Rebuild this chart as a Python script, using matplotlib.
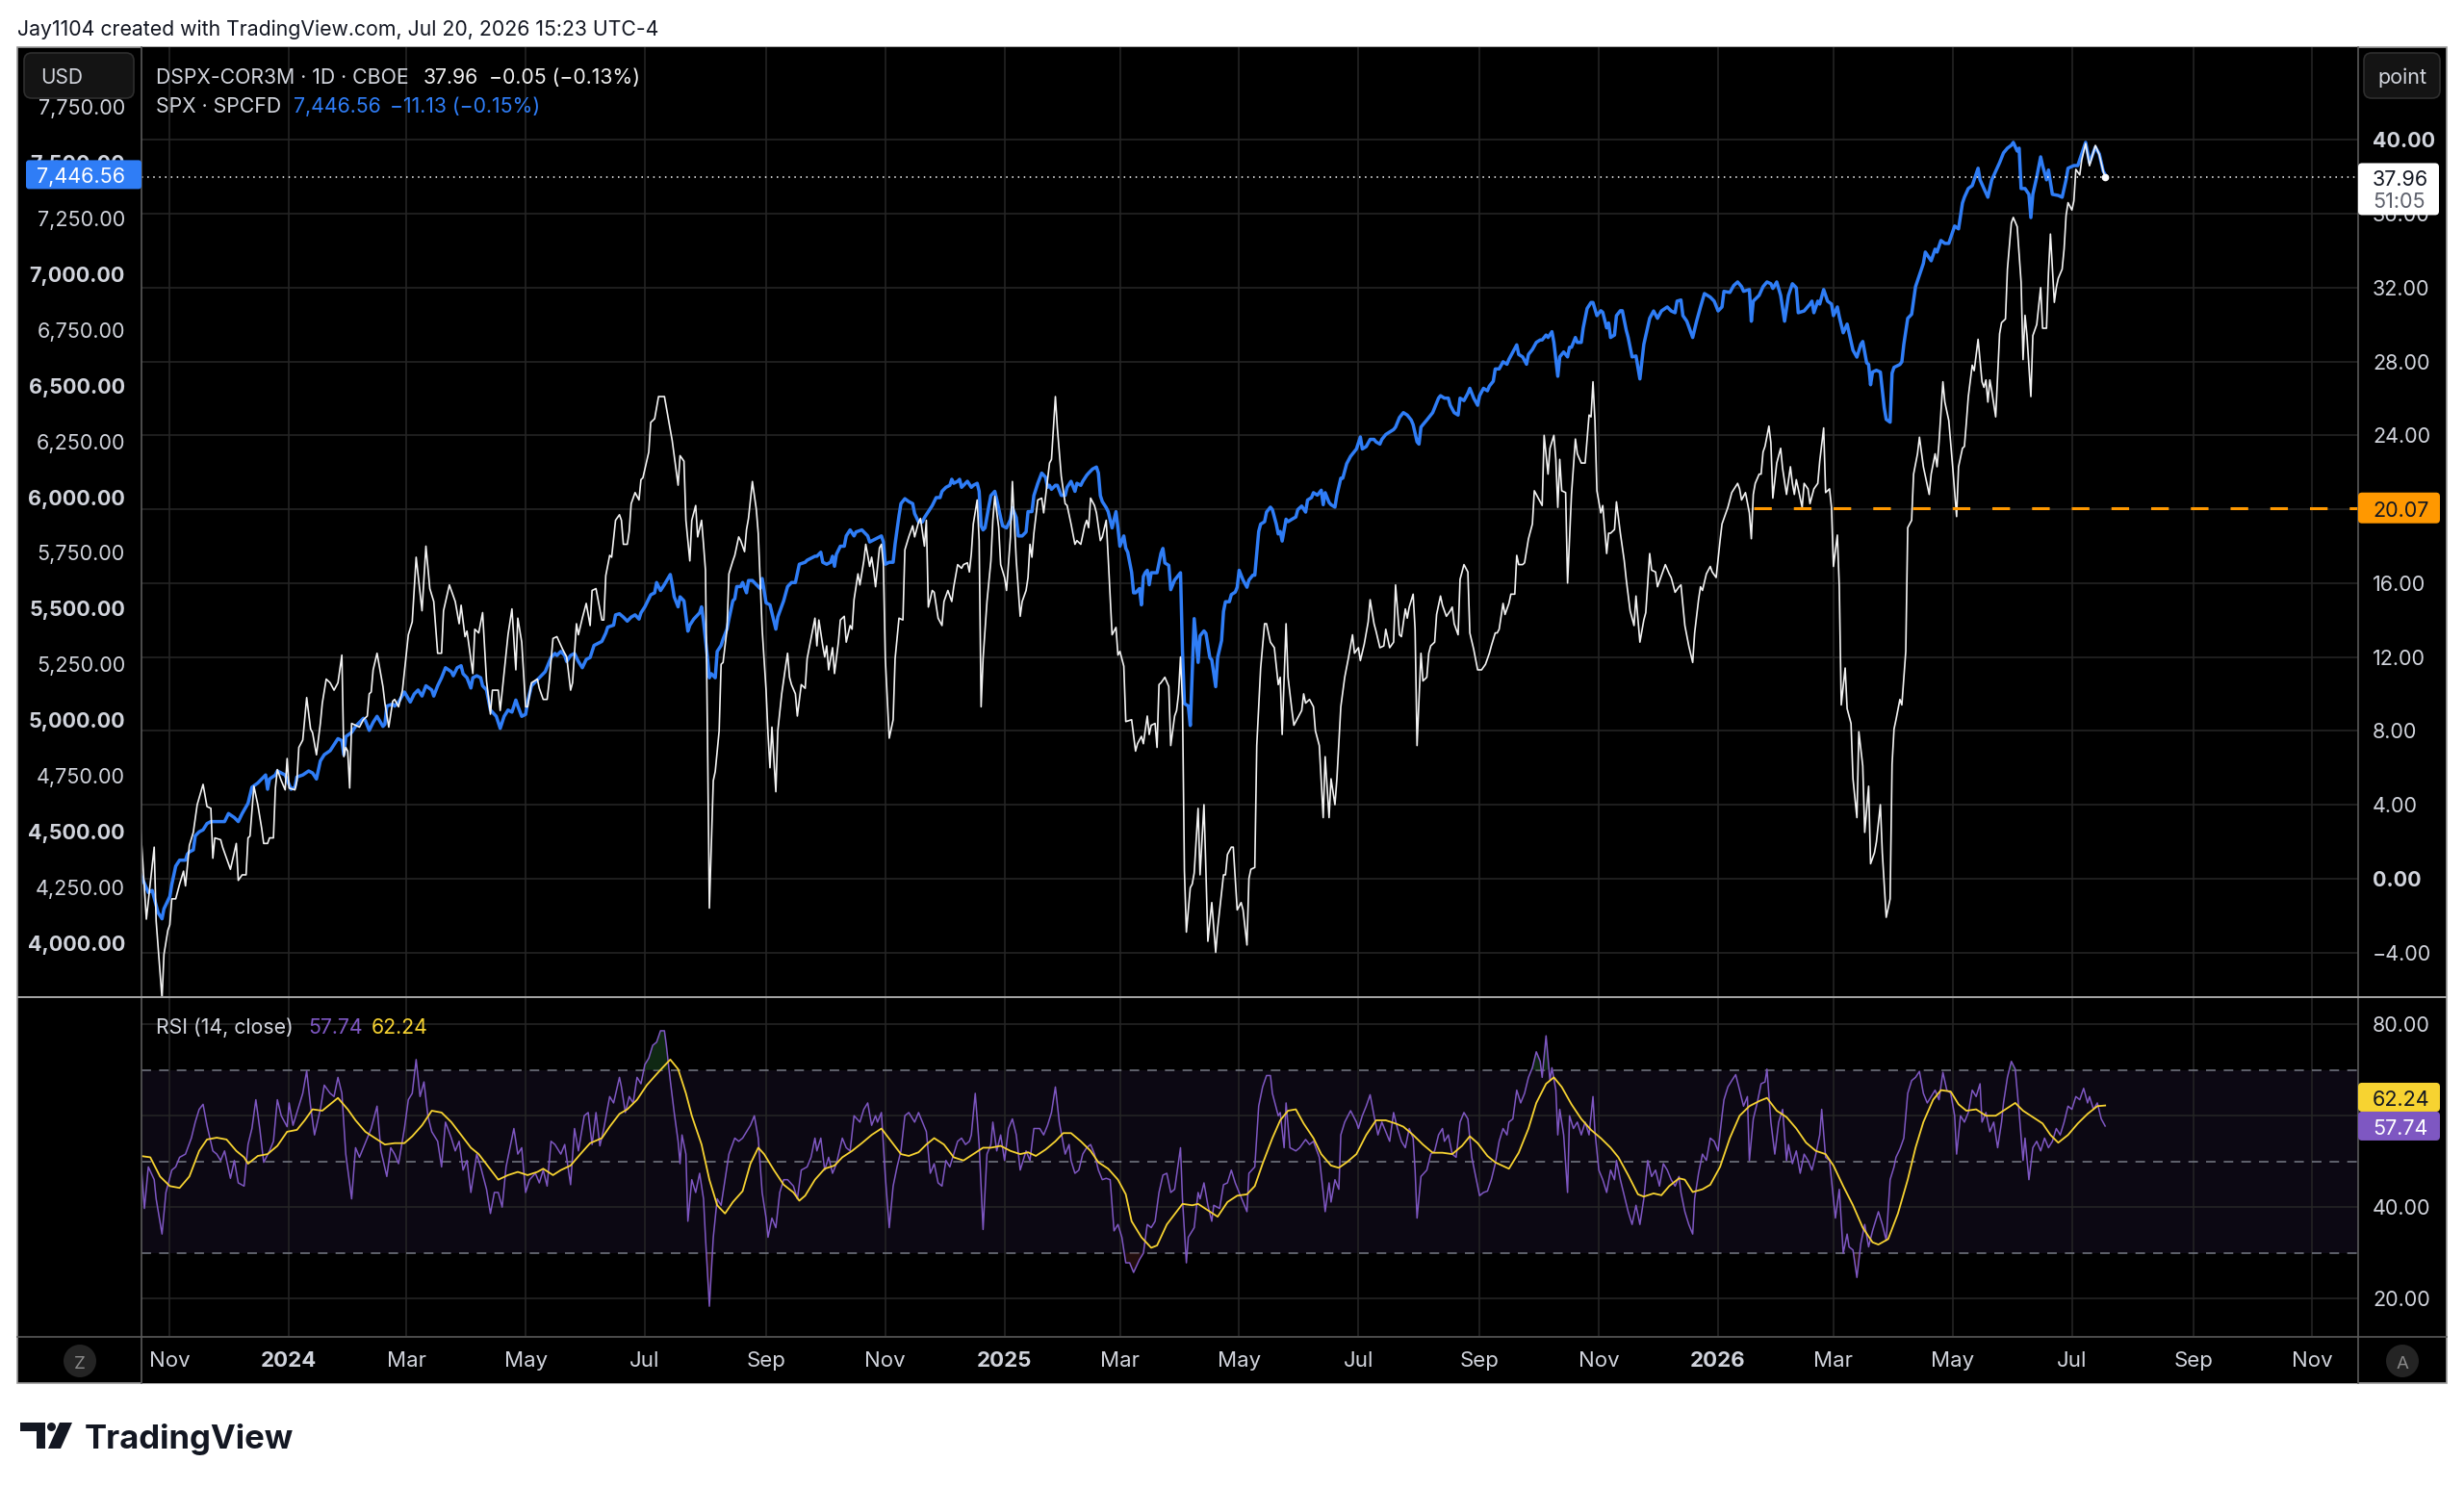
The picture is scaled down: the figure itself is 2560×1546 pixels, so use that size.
import numpy as np
import matplotlib
matplotlib.use('Agg')
import matplotlib.pyplot as plt
import matplotlib.dates as mdates
from matplotlib.patches import FancyBboxPatch, Rectangle, Circle, Polygon
from matplotlib.lines import Line2D
from matplotlib.transforms import IdentityTransform, blended_transform_factory

plt.rcParams['font.family'] = ['Inter', 'DejaVu Sans']

W, H = 2560, 1546

# ---------------- data (days counted from start_date) ----------------
start_date = '2023-11-01'

dspx_day = [-15, -12, -8, -7, -4, -3, -1, 0, 1, 3, 5, 7, 8, 10, 12, 14, 17, 19, 21, 22, 23, 26, 27, 31, 34, 35,
            37, 39, 40, 41, 43, 45, 47, 48, 50, 51, 53, 54, 55, 57, 59, 60, 61, 64, 65, 66, 68, 70, 72, 73, 75, 77,
            78, 80, 82, 84, 86, 88, 89, 90, 91, 92, 93, 97, 99, 101, 102, 103, 104, 106, 109, 110, 112, 114, 115,
            117, 119, 122, 124, 126, 129, 131, 133, 135, 137, 139, 140, 143, 146, 148, 149, 151, 152, 155, 156,
            158, 160, 162, 164, 165, 168, 169, 173, 175, 177, 178, 180, 182, 183, 185, 188, 189, 191, 193, 194,
            196, 198, 201, 203, 205, 206, 208, 209, 211, 213, 215, 216, 218, 221, 222, 223, 225, 226, 228, 230,
            231, 232, 234, 235, 236, 238, 240, 241, 242, 245, 246, 248, 250, 253, 255, 257, 258, 260, 261, 263,
            264, 266, 267, 269, 270, 272, 273, 274, 275, 276, 278, 279, 281, 282, 283, 285, 286, 288, 289, 291,
            292, 294, 295, 296, 298, 300, 301, 303, 305, 306, 307, 308, 310, 311, 313, 315, 316, 317, 318, 320,
            321, 323, 325, 326, 328, 330, 331, 332, 334, 335, 336, 337, 339, 340, 342, 343, 345, 346, 348, 349,
            350, 352, 353, 355, 356, 358, 359, 360, 361, 363, 364, 365, 366, 368, 370, 371, 373, 375, 376, 378,
            380, 381, 383, 384, 386, 387, 388, 390, 391, 393, 395, 396, 398, 400, 401, 403, 405, 406, 408, 409,
            410, 411, 413, 414, 415, 416, 418, 420, 421, 422, 424, 425, 427, 428, 430, 431, 432, 433, 435, 436,
            438, 439, 440, 441, 442, 444, 446, 447, 449, 450, 451, 453, 454, 456, 458, 459, 461, 463, 464, 466,
            468, 469, 470, 471, 473, 474, 476, 477, 479, 480, 482, 484, 485, 486, 488, 489, 492, 494, 495, 497,
            498, 500, 501, 502, 504, 505, 506, 507, 509, 511, 512, 514, 515, 516, 517, 518, 519, 520, 522, 523,
            524, 526, 527, 529, 530, 531, 533, 535, 536, 539, 540, 541, 543, 544, 546, 548, 549, 551, 552, 553,
            555, 556, 558, 560, 561, 563, 565, 567, 568, 569, 571, 572, 574, 575, 577, 579, 580, 581, 583, 585,
            586, 588, 590, 591, 593, 594, 596, 597, 599, 601, 603, 605, 606, 608, 609, 611, 613, 614, 616, 617,
            619, 621, 622, 624, 626, 627, 629, 630, 632, 633, 634, 636, 637, 638, 640, 641, 643, 644, 645, 647,
            648, 650, 651, 653, 655, 656, 657, 659, 660, 662, 664, 665, 667, 669, 671, 673, 675, 676, 678, 679,
            680, 682, 683, 685, 686, 688, 689, 690, 692, 693, 695, 697, 698, 700, 702, 703, 705, 706, 708, 709,
            710, 711, 712, 714, 715, 717, 719, 720, 722, 724, 726, 727, 728, 729, 730, 732, 733, 735, 736, 737,
            739, 740, 742, 744, 745, 747, 749, 750, 752, 754, 755, 757, 758, 760, 761, 763, 765, 767, 768, 770,
            772, 773, 775, 777, 779, 780, 782, 783, 784, 786, 788, 789, 791, 793, 794, 797, 799, 802, 803, 804,
            806, 808, 809, 810, 811, 813, 814, 815, 816, 818, 819, 820, 822, 824, 825, 827, 829, 830, 831, 832,
            833, 835, 836, 838, 839, 841, 843, 844, 846, 847, 849, 850, 851, 853, 854, 855, 857, 858, 860, 861,
            863, 864, 866, 867, 869, 870, 872, 873, 875, 876, 878, 880, 881, 882, 883, 885, 886, 888, 889, 891,
            892, 894, 895, 897, 900, 901, 903, 904, 905, 907, 908, 910, 912, 914, 915, 917, 918, 919, 920, 922,
            923, 925, 927, 928, 929, 930, 931, 932, 934, 936, 937, 939, 940, 942, 943, 945, 947, 948, 949, 950,
            952, 953, 955, 957, 958, 960, 961, 962, 964, 965, 966, 968, 969, 970, 971, 973, 974, 975, 977, 978,
            980, 982, 985, 987, 989, 990]
dspx_val = [2.8, -2.2, 1.7, -2.3, -6.5, -4.1, -2.8, -2.5, -1.1, -1.1, -0.3, 0.4, -0.4, 1.8, 2.5, 4.0, 5.1, 3.9,
            3.8, 1.1, 2.2, 2.1, 1.7, 0.5, 1.9, -0.1, 0.2, 0.2, 2.2, 2.3, 5.0, 4.0, 2.7, 1.9, 1.9, 2.2, 2.2, 4.9,
            5.9, 5.3, 4.8, 6.5, 4.9, 4.8, 5.3, 7.1, 7.5, 9.8, 8.1, 7.9, 6.7, 8.4, 9.5, 10.8, 10.6, 10.2, 10.6,
            12.1, 6.6, 7.1, 6.9, 4.9, 8.4, 8.2, 8.6, 8.8, 10.0, 10.1, 11.3, 12.2, 10.4, 9.5, 8.2, 9.6, 9.7, 9.3,
            10.2, 13.2, 13.9, 17.4, 14.5, 18.0, 15.7, 15.0, 12.2, 12.2, 14.5, 15.9, 15.0, 13.8, 14.8, 13.1, 13.4,
            11.1, 13.5, 13.3, 14.4, 10.7, 8.9, 10.2, 10.2, 9.1, 13.2, 14.6, 11.3, 14.1, 12.8, 9.3, 9.3, 10.6,
            10.8, 10.3, 9.7, 9.7, 10.6, 13.0, 13.1, 12.4, 12.0, 10.2, 10.6, 13.8, 13.2, 14.1, 14.9, 13.7, 15.6,
            15.7, 14.0, 14.0, 16.4, 17.5, 17.4, 19.4, 19.7, 19.4, 18.1, 18.1, 18.8, 20.3, 20.9, 20.5, 21.6, 21.7,
            23.1, 24.7, 24.9, 26.1, 26.1, 24.9, 23.7, 22.9, 21.3, 22.9, 22.6, 19.4, 17.2, 19.4, 20.2, 18.5, 19.4,
            18.1, 16.7, 8.0, -1.6, 5.3, 5.8, 8.0, 11.6, 11.7, 13.5, 16.5, 17.2, 17.5, 18.5, 18.3, 17.7, 18.9, 19.5,
            21.5, 20.0, 18.7, 13.5, 10.2, 7.8, 6.0, 8.2, 4.7, 8.0, 10.0, 11.5, 12.2, 10.9, 10.5, 10.0, 8.8, 10.5,
            10.3, 11.9, 13.0, 14.1, 12.6, 14.0, 12.6, 12.0, 12.6, 11.3, 12.5, 11.1, 12.8, 14.0, 14.2, 12.8, 13.7,
            13.5, 15.1, 16.5, 15.9, 17.2, 18.1, 16.9, 17.4, 16.7, 15.8, 17.9, 18.1, 17.0, 11.9, 7.6, 8.6, 11.9,
            14.1, 14.0, 17.8, 18.5, 19.1, 18.5, 19.3, 19.5, 18.0, 19.4, 14.7, 15.6, 15.5, 14.1, 13.7, 15.0, 15.6,
            15.0, 15.8, 17.0, 16.8, 17.0, 17.1, 16.6, 17.6, 19.2, 20.5, 18.3, 9.3, 11.9, 15.0, 17.2, 19.4, 20.7,
            19.0, 17.0, 16.3, 15.6, 18.5, 21.5, 19.4, 17.2, 14.2, 15.0, 15.6, 16.3, 18.1, 17.4, 18.7, 20.5, 20.6,
            19.8, 21.6, 22.5, 22.7, 26.1, 24.4, 21.8, 20.3, 20.2, 19.2, 18.1, 18.3, 18.1, 19.1, 19.4, 19.0, 20.6,
            20.2, 19.8, 18.3, 18.5, 19.4, 17.4, 13.2, 13.6, 12.1, 12.3, 11.5, 8.5, 8.6, 6.9, 7.3, 7.7, 7.3, 8.8,
            7.8, 8.3, 8.4, 7.1, 10.5, 10.6, 10.9, 10.4, 7.2, 8.8, 9.1, 10.0, 12.0, 9.6, 0.4, -2.9, -0.5, -0.3, 0.3,
            3.8, 0.2, 4.0, 0.4, -3.4, -1.3, -4.0, -2.7, 0.2, 0.2, 1.3, 1.7, 1.7, -1.7, -1.3, -1.7, -3.6, 0.0, 0.5,
            0.6, 7.2, 11.4, 13.8, 13.8, 12.8, 12.5, 10.5, 10.9, 7.8, 13.8, 10.9, 9.1, 8.3, 8.7, 9.1, 10.0, 9.5,
            9.7, 9.3, 8.0, 7.2, 3.3, 6.6, 3.3, 5.4, 4.0, 5.4, 9.3, 10.9, 12.0, 13.2, 12.2, 12.5, 11.8, 12.7, 13.9,
            15.1, 13.8, 13.4, 12.5, 12.6, 13.5, 12.5, 12.8, 15.9, 13.2, 13.1, 14.6, 14.1, 14.7, 15.4, 13.5, 7.2,
            12.2, 10.7, 10.9, 12.2, 12.6, 12.8, 14.3, 15.3, 14.8, 14.2, 14.5, 14.7, 13.8, 13.2, 16.2, 17.0, 16.6,
            13.3, 12.4, 11.3, 11.3, 11.6, 12.2, 12.6, 13.3, 13.3, 13.5, 14.9, 14.3, 14.9, 15.4, 15.4, 17.5, 17.0,
            17.0, 17.1, 18.4, 19.2, 21.0, 20.6, 20.2, 24.0, 21.9, 23.3, 24.0, 22.7, 20.1, 22.7, 21.0, 20.9, 16.0,
            20.8, 23.8, 23.0, 22.5, 22.5, 25.1, 25.0, 26.9, 24.8, 21.0, 19.8, 20.2, 17.6, 18.7, 18.7, 18.9, 20.4,
            18.7, 17.2, 16.2, 14.5, 13.7, 15.3, 12.8, 14.0, 14.4, 17.6, 16.7, 16.6, 15.8, 16.4, 17.0, 16.5, 16.3,
            15.5, 15.8, 15.9, 13.7, 12.6, 11.7, 13.3, 15.1, 15.8, 15.6, 16.5, 16.9, 16.6, 16.3, 18.3, 19.2, 20.1,
            20.9, 21.4, 21.1, 20.5, 20.9, 19.8, 18.4, 20.8, 21.4, 21.9, 21.9, 23.1, 23.4, 24.5, 23.6, 20.6, 22.5,
            23.3, 22.2, 20.8, 22.3, 21.4, 20.8, 21.6, 21.1, 20.1, 21.4, 21.1, 20.3, 21.1, 21.4, 22.6, 24.4, 20.9,
            21.1, 20.1, 16.9, 18.6, 15.8, 9.4, 11.4, 9.2, 8.4, 5.4, 3.3, 7.95, 6.1, 2.5, 5.0, 0.8, 1.4, 2.0, 4.0,
            1.4, -2.1, -1.1, 6.2, 8.1, 8.6, 9.7, 9.4, 12.3, 19.0, 19.4, 21.9, 23.0, 23.9, 22.3, 20.8, 21.9, 23.0,
            22.3, 23.6, 26.9, 25.8, 24.8, 22.3, 19.6, 22.3, 23.3, 23.4, 24.7, 26.1, 27.8, 27.5, 29.2, 26.9, 26.6,
            27.0, 25.8, 27.0, 26.4, 25.0, 29.5, 30.1, 30.3, 33.0, 35.5, 35.8, 35.3, 32.3, 28.1, 30.5, 29.4, 26.1,
            29.4, 30.0, 32.0, 29.8, 29.8, 32.8, 34.9, 31.2, 32.0, 32.5, 33.0, 34.1, 35.9, 36.6, 36.2, 36.7, 38.4,
            38.1, 38.9, 39.8, 38.6, 39.7, 39.2, 38.3, 37.96]

spx_day = [-15, -11, -9, -6, -4, -3, 0, 1, 3, 5, 8, 9, 10, 12, 13, 15, 17, 19, 21, 25, 28, 30, 33, 35, 37, 40,
           42, 45, 47, 49, 50, 51, 54, 55, 59, 62, 64, 65, 68, 71, 73, 75, 77, 79, 82, 84, 86, 88, 89, 90, 93, 95,
           99, 100, 102, 104, 106, 109, 110, 111, 114, 115, 117, 120, 123, 125, 127, 129, 131, 134, 135, 137, 139,
           141, 144, 145, 147, 149, 150, 152, 154, 155, 157, 159, 160, 162, 164, 167, 169, 171, 173, 175, 177,
           178, 180, 182, 183, 185, 187, 189, 192, 195, 197, 198, 200, 202, 203, 205, 207, 209, 211, 213, 215,
           217, 219, 221, 223, 224, 227, 228, 230, 232, 234, 236, 238, 240, 241, 243, 246, 248, 249, 251, 253,
           256, 257, 258, 260, 261, 263, 265, 266, 268, 271, 272, 273, 275, 276, 277, 279, 280, 282, 283, 285,
           286, 288, 289, 290, 292, 293, 295, 296, 298, 300, 302, 303, 305, 307, 308, 310, 311, 314, 316, 318,
           320, 322, 325, 326, 328, 330, 331, 333, 334, 336, 338, 339, 340, 341, 343, 345, 346, 348, 350, 351,
           354, 355, 357, 358, 360, 362, 364, 365, 366, 368, 370, 371, 373, 374, 376, 378, 380, 381, 383, 385,
           386, 388, 390, 392, 394, 395, 397, 399, 400, 401, 403, 404, 405, 407, 408, 410, 411, 413, 414, 415,
           416, 417, 419, 420, 422, 423, 425, 426, 428, 430, 431, 433, 434, 436, 438, 439, 441, 442, 444, 446,
           448, 449, 450, 451, 453, 454, 456, 458, 459, 461, 463, 464, 466, 467, 469, 470, 472, 474, 475, 476,
           477, 479, 480, 482, 484, 485, 486, 488, 489, 490, 492, 493, 494, 496, 497, 498, 499, 500, 501, 502,
           505, 507, 508, 509, 511, 512, 514, 516, 517, 518, 519, 521, 522, 524, 526, 527, 529, 530, 532, 533,
           535, 536, 538, 539, 540, 542, 543, 545, 546, 547, 549, 551, 552, 554, 555, 557, 558, 560, 561, 563,
           564, 566, 567, 568, 569, 571, 572, 574, 576, 577, 579, 581, 582, 584, 585, 587, 589, 590, 591, 593,
           594, 596, 597, 599, 600, 602, 604, 606, 607, 609, 610, 612, 614, 616, 617, 619, 620, 622, 624, 626,
           627, 629, 630, 631, 633, 635, 636, 638, 639, 640, 641, 643, 645, 646, 647, 649, 650, 652, 654, 655,
           657, 659, 660, 662, 664, 665, 667, 669, 670, 672, 674, 675, 677, 678, 680, 682, 684, 685, 687, 689,
           690, 692, 694, 695, 697, 699, 701, 702, 704, 705, 707, 708, 710, 711, 713, 715, 716, 717, 719, 720,
           722, 723, 725, 727, 728, 730, 732, 733, 735, 736, 737, 739, 740, 742, 743, 745, 746, 748, 750, 752,
           754, 757, 759, 761, 763, 766, 768, 770, 771, 773, 774, 776, 779, 781, 783, 785, 788, 790, 792, 794,
           795, 798, 800, 802, 804, 805, 808, 809, 810, 813, 815, 817, 819, 820, 822, 824, 826, 828, 830, 832,
           833, 836, 839, 840, 841, 843, 844, 846, 848, 850, 851, 853, 854, 856, 858, 859, 861, 863, 865, 866,
           868, 869, 870, 871, 873, 875, 877, 878, 880, 881, 882, 885, 886, 887, 889, 891, 893, 895, 897, 898,
           900, 901, 903, 904, 906, 908, 910, 912, 913, 915, 917, 918, 920, 922, 923, 925, 926, 928, 930, 932,
           934, 936, 938, 940, 942, 943, 945, 946, 947, 949, 951, 952, 953, 955, 957, 958, 960, 961, 963, 966,
           968, 970, 971, 974, 976, 978, 980, 982, 985, 987, 989, 990]
spx_val = [4309, 4227, 4236, 4136, 4109, 4154, 4209, 4263, 4345, 4372, 4372, 4399, 4409, 4418, 4481, 4499, 4508,
           4536, 4545, 4545, 4545, 4581, 4563, 4545, 4581, 4627, 4699, 4718, 4736, 4754, 4690, 4736, 4754, 4772,
           4754, 4690, 4699, 4745, 4754, 4772, 4763, 4736, 4817, 4845, 4863, 4890, 4917, 4908, 4845, 4926, 4945,
           4972, 5008, 4999, 4954, 4990, 5017, 4972, 4981, 5063, 5072, 5063, 5081, 5126, 5081, 5117, 5135, 5108,
           5154, 5135, 5108, 5154, 5190, 5235, 5217, 5199, 5235, 5244, 5208, 5190, 5144, 5190, 5199, 5190, 5154,
           5135, 5045, 5017, 4963, 5017, 5045, 5036, 5090, 5063, 5017, 5026, 5081, 5154, 5172, 5190, 5217, 5281,
           5299, 5290, 5308, 5290, 5263, 5290, 5299, 5263, 5235, 5272, 5281, 5335, 5344, 5353, 5390, 5417, 5426,
           5472, 5477, 5462, 5444, 5462, 5472, 5453, 5481, 5508, 5562, 5571, 5617, 5581, 5608, 5653, 5608, 5553,
           5508, 5553, 5535, 5399, 5426, 5453, 5481, 5508, 5444, 5281, 5190, 5208, 5190, 5308, 5335, 5363, 5408,
           5453, 5535, 5544, 5599, 5599, 5617, 5571, 5626, 5626, 5608, 5590, 5635, 5526, 5517, 5481, 5408, 5463,
           5535, 5599, 5617, 5617, 5699, 5708, 5717, 5726, 5735, 5735, 5753, 5708, 5699, 5708, 5735, 5690, 5744,
           5780, 5780, 5826, 5853, 5826, 5844, 5853, 5844, 5826, 5799, 5808, 5817, 5826, 5799, 5699, 5708, 5708,
           5790, 5917, 5971, 5993, 5980, 5971, 5926, 5889, 5889, 5908, 5935, 5962, 5998, 5998, 6026, 6044, 6053,
           6080, 6062, 6071, 6080, 6044, 6062, 6071, 6044, 6053, 6062, 6026, 5871, 5853, 5862, 5962, 6007, 6026,
           5989, 5908, 5871, 5862, 5899, 5953, 5908, 5826, 5826, 5844, 5935, 5935, 6007, 6062, 6108, 6089, 6044,
           6053, 6035, 6053, 6053, 6008, 6008, 6044, 6071, 6026, 6062, 6053, 6071, 6098, 6108, 6126, 6135, 6108,
           6007, 5980, 5953, 5935, 5862, 5935, 5862, 5780, 5826, 5771, 5753, 5662, 5571, 5571, 5590, 5517, 5644,
           5662, 5672, 5607, 5661, 5661, 5748, 5770, 5705, 5694, 5585, 5628, 5650, 5661, 5313, 5074, 5063, 4976,
           5455, 5259, 5378, 5400, 5389, 5281, 5270, 5150, 5281, 5357, 5487, 5531, 5531, 5563, 5574, 5596, 5672,
           5628, 5596, 5628, 5650, 5650, 5846, 5879, 5890, 5933, 5955, 5944, 5879, 5835, 5846, 5803, 5901, 5890,
           5901, 5911, 5944, 5960, 5933, 5987, 5998, 6020, 6009, 6031, 5966, 6020, 5976, 5966, 5955, 6009, 6085,
           6085, 6150, 6183, 6205, 6216, 6270, 6216, 6227, 6259, 6259, 6248, 6238, 6259, 6281, 6292, 6303, 6314,
           6357, 6368, 6379, 6368, 6346, 6325, 6248, 6238, 6314, 6325, 6346, 6368, 6379, 6401, 6444, 6455, 6444,
           6444, 6412, 6379, 6368, 6444, 6433, 6466, 6488, 6444, 6412, 6455, 6488, 6477, 6498, 6520, 6575, 6575,
           6607, 6596, 6618, 6651, 6683, 6640, 6629, 6596, 6640, 6662, 6694, 6705, 6705, 6727, 6716, 6742, 6694,
           6542, 6629, 6651, 6629, 6672, 6672, 6716, 6694, 6694, 6759, 6846, 6873, 6873, 6814, 6836, 6829, 6759,
           6781, 6716, 6727, 6814, 6836, 6836, 6749, 6716, 6629, 6633, 6530, 6685, 6802, 6835, 6802, 6835, 6853,
           6835, 6827, 6879, 6884, 6814, 6789, 6716, 6789, 6853, 6913, 6897, 6879, 6835, 6853, 6923, 6918, 6949,
           6965, 6944, 6923, 6931, 6789, 6879, 6905, 6944, 6965, 6957, 6936, 6965, 6905, 6789, 6905, 6957, 6939,
           6827, 6835, 6866, 6879, 6827, 6879, 6866, 6931, 6879, 6866, 6814, 6853, 6809, 6737, 6776, 6737, 6659,
           6628, 6685, 6698, 6602, 6595, 6504, 6561, 6569, 6561, 6400, 6349, 6336, 6556, 6582, 6595, 6607, 6685,
           6802, 6820, 6944, 6996, 7048, 7099, 7073, 7060, 7112, 7099, 7151, 7138, 7138, 7190, 7216, 7203, 7319,
           7345, 7384, 7397, 7423, 7475, 7423, 7384, 7345, 7423, 7462, 7500, 7544, 7565, 7578, 7591, 7552, 7565,
           7384, 7384, 7358, 7254, 7358, 7436, 7526, 7487, 7423, 7467, 7358, 7353, 7345, 7423, 7475, 7487, 7487,
           7539, 7591, 7500, 7570, 7539, 7462, 7446.56]

rsi_day = [-15, -13, -11, -8, -7, -4, -2, 1, 3, 5, 8, 11, 13, 15, 17, 19, 22, 24, 26, 28, 31, 33, 35, 38, 40, 42,
           44, 46, 48, 51, 53, 55, 57, 60, 61, 63, 66, 68, 70, 72, 74, 77, 79, 82, 84, 86, 88, 90, 93, 95, 97, 99,
           101, 103, 106, 108, 111, 113, 115, 117, 120, 122, 124, 126, 128, 130, 132, 134, 137, 139, 141, 144,
           146, 148, 150, 152, 154, 157, 159, 162, 164, 166, 168, 170, 172, 175, 176, 178, 180, 182, 184, 187,
           189, 191, 193, 195, 197, 200, 202, 205, 207, 209, 212, 214, 216, 218, 220, 222, 225, 227, 230, 231,
           233, 235, 237, 239, 241, 243, 245, 247, 249, 251, 253, 254, 256, 258, 260, 261, 262, 264, 265, 267,
           269, 271, 273, 274, 276, 278, 280, 282, 284, 286, 289, 291, 293, 295, 297, 299, 301, 303, 305, 306,
           308, 310, 312, 314, 316, 319, 321, 323, 326, 328, 330, 331, 333, 335, 337, 339, 341, 344, 346, 348,
           350, 353, 355, 357, 359, 361, 362, 364, 366, 368, 370, 372, 374, 376, 378, 381, 383, 385, 387, 389,
           391, 393, 395, 397, 399, 401, 403, 405, 407, 409, 410, 412, 414, 416, 418, 420, 421, 423, 425, 427,
           429, 431, 433, 435, 438, 440, 442, 445, 447, 449, 451, 453, 455, 458, 460, 461, 463, 465, 467, 469,
           471, 473, 475, 477, 479, 481, 483, 485, 487, 489, 491, 493, 496, 498, 500, 502, 504, 506, 508, 510,
           512, 514, 517, 518, 520, 521, 524, 526, 527, 529, 531, 533, 534, 537, 539, 541, 543, 545, 547, 549,
           551, 552, 555, 557, 559, 561, 563, 564, 567, 568, 570, 571, 573, 576, 578, 581, 583, 585, 588, 590,
           591, 593, 594, 596, 598, 599, 601, 604, 607, 608, 610, 612, 614, 616, 618, 620, 622, 624, 626, 628,
           630, 632, 634, 636, 637, 638, 640, 643, 645, 647, 649, 651, 652, 654, 656, 658, 660, 662, 664, 666,
           668, 670, 672, 674, 676, 678, 680, 682, 684, 685, 687, 689, 691, 693, 695, 697, 699, 701, 702, 704,
           706, 707, 709, 710, 711, 713, 715, 716, 718, 720, 722, 724, 726, 728, 729, 731, 733, 735, 737, 739,
           740, 742, 744, 746, 748, 750, 752, 754, 756, 758, 760, 762, 764, 766, 768, 770, 772, 773, 775, 777,
           779, 780, 782, 784, 786, 788, 790, 792, 794, 795, 797, 799, 801, 803, 805, 807, 808, 810, 812, 814,
           816, 817, 819, 821, 823, 825, 827, 828, 830, 832, 834, 836, 838, 840, 842, 844, 845, 847, 849, 850,
           852, 854, 856, 858, 859, 861, 863, 865, 867, 869, 871, 872, 874, 876, 878, 880, 882, 883, 885, 887,
           889, 891, 893, 895, 897, 899, 901, 903, 905, 907, 909, 911, 913, 914, 916, 918, 920, 922, 924, 926,
           927, 929, 931, 933, 935, 937, 938, 940, 942, 944, 946, 948, 949, 951, 953, 955, 957, 959, 961, 963,
           965, 967, 969, 971, 973, 975, 977, 979, 981, 982, 984, 986, 988, 990]
rsi_val = [50.9, 39.7, 48.8, 46.0, 41.8, 34.1, 43.2, 48.1, 48.8, 50.9, 51.6, 55.1, 58.6, 61.4, 62.5, 57.9, 52.3,
           51.6, 50.2, 52.3, 46.3, 50.2, 45.3, 44.6, 53.7, 57.2, 63.5, 57.2, 49.8, 52.3, 54.4, 63.5, 60.0, 57.6,
           62.8, 57.9, 62.1, 64.9, 69.8, 62.1, 55.8, 61.4, 66.7, 64.9, 64.2, 68.4, 64.9, 51.6, 41.8, 53.0, 50.9,
           53.0, 55.1, 57.2, 62.1, 52.3, 46.7, 53.0, 51.6, 49.5, 57.2, 63.5, 64.9, 72.3, 64.2, 67.4, 60.0, 56.5,
           54.4, 48.8, 58.6, 55.1, 52.3, 54.4, 48.1, 50.2, 43.2, 51.6, 48.8, 43.9, 38.6, 43.2, 43.2, 40.0, 48.8,
           55.1, 57.2, 51.6, 53.0, 43.2, 46.0, 47.4, 45.3, 48.1, 44.6, 54.4, 53.7, 51.6, 53.7, 44.9, 57.2, 52.3,
           60.0, 60.7, 53.7, 60.7, 53.4, 57.2, 64.2, 62.8, 68.4, 66.3, 60.7, 64.2, 62.8, 68.4, 67.0, 71.2, 72.6,
           75.4, 76.1, 78.6, 78.6, 75.4, 67.7, 60.7, 54.4, 49.5, 55.8, 51.6, 36.9, 46.0, 43.2, 47.4, 41.8, 33.4,
           18.3, 33.4, 41.8, 40.4, 46.0, 51.6, 55.1, 54.4, 55.1, 56.5, 57.9, 60.0, 55.1, 43.2, 37.6, 33.4, 37.6,
           35.5, 43.2, 46.0, 46.0, 44.6, 41.8, 48.1, 48.8, 50.9, 55.1, 52.3, 55.1, 48.1, 50.9, 47.4, 49.5, 55.1,
           53.0, 52.3, 60.0, 58.6, 61.4, 62.8, 57.9, 60.0, 58.6, 60.7, 46.7, 35.5, 44.6, 48.8, 52.3, 60.0, 60.7,
           58.6, 60.7, 58.6, 56.5, 47.4, 49.5, 45.3, 44.6, 50.2, 48.8, 51.6, 54.4, 55.1, 53.7, 54.4, 55.8, 64.9,
           53.7, 35.1, 51.6, 53.7, 58.6, 52.3, 55.8, 50.2, 57.2, 59.3, 55.8, 48.1, 52.3, 50.2, 57.2, 57.2, 55.8,
           57.9, 60.7, 66.3, 58.6, 51.6, 53.7, 50.2, 47.4, 48.1, 51.6, 53.0, 53.7, 51.6, 48.1, 46.0, 46.3, 46.0,
           34.8, 36.2, 33.4, 27.8, 27.8, 25.7, 28.5, 29.9, 36.2, 35.5, 36.9, 43.2, 47.0, 47.4, 43.2, 43.9, 53.0,
           41.8, 27.8, 33.4, 35.5, 43.2, 41.8, 45.3, 40.4, 36.9, 40.4, 39.7, 44.9, 45.3, 48.1, 45.3, 43.2, 41.1,
           39.0, 47.4, 48.8, 62.1, 66.3, 68.8, 68.8, 64.9, 60.0, 60.7, 53.0, 62.8, 53.0, 52.3, 53.0, 54.8, 53.7,
           54.4, 50.9, 43.2, 39.0, 45.3, 41.1, 46.0, 43.9, 55.8, 58.6, 61.1, 58.6, 57.2, 60.0, 62.1, 64.6, 60.0,
           55.8, 58.6, 56.5, 54.4, 60.7, 57.2, 54.4, 53.0, 57.2, 55.1, 48.1, 37.6, 46.7, 48.1, 51.6, 52.3, 55.8,
           57.2, 54.4, 55.8, 51.6, 50.9, 58.6, 60.7, 59.3, 50.9, 46.7, 42.5, 43.2, 43.5, 46.0, 49.5, 54.4, 57.2,
           55.8, 58.6, 59.3, 65.6, 62.8, 64.9, 68.4, 70.5, 74.0, 71.9, 68.4, 77.5, 67.7, 70.5, 65.6, 55.8, 61.4,
           55.8, 43.2, 60.0, 57.2, 58.6, 55.8, 58.6, 55.8, 64.2, 56.5, 48.1, 46.0, 43.2, 48.1, 46.0, 50.2, 46.0,
           42.5, 39.0, 36.2, 40.4, 36.2, 41.8, 50.2, 46.7, 48.1, 44.6, 49.5, 48.1, 46.0, 44.6, 46.7, 43.2, 39.0,
           36.2, 34.1, 41.8, 47.4, 51.6, 50.2, 55.1, 54.4, 52.3, 60.0, 63.5, 66.3, 67.7, 69.0, 65.6, 62.1, 64.2,
           50.2, 59.3, 62.8, 67.0, 67.4, 70.2, 58.6, 51.6, 58.6, 61.4, 50.2, 53.7, 49.5, 52.3, 47.4, 51.6, 50.2,
           48.1, 51.6, 55.8, 61.4, 50.9, 50.2, 46.0, 37.6, 43.9, 29.9, 34.1, 31.3, 30.6, 24.6, 32.0, 36.2, 31.3,
           34.8, 36.2, 39.0, 36.2, 32.7, 46.0, 48.8, 50.9, 52.7, 55.1, 64.9, 67.7, 68.4, 69.7, 64.9, 62.8, 64.2,
           65.6, 63.5, 69.5, 65.6, 64.9, 60.0, 51.6, 60.0, 58.6, 60.7, 65.6, 64.2, 67.0, 58.6, 60.7, 56.5, 58.6,
           53.0, 58.6, 62.8, 68.4, 71.9, 70.2, 60.7, 50.2, 55.1, 46.0, 53.0, 54.4, 52.3, 55.1, 53.0, 54.4, 57.2,
           55.8, 58.6, 62.1, 61.4, 64.2, 63.5, 66.0, 62.8, 64.2, 61.4, 62.8, 59.3, 57.74]

rsi_ma_day = [-15, -10, -5, 0, 5, 10, 15, 19, 24, 29, 34, 38, 40, 45, 50, 55, 60, 65, 69, 73, 78, 82, 86, 91, 95,
              100, 105, 110, 115, 120, 124, 129, 134, 139, 144, 149, 154, 158, 163, 168, 173, 178, 183, 188, 191,
              196, 200, 205, 210, 215, 221, 225, 230, 234, 239, 244, 249, 252, 256, 260, 264, 267, 272, 276, 280,
              284, 288, 293, 297, 301, 304, 309, 314, 319, 322, 325, 330, 335, 340, 344, 349, 354, 359, 364, 369,
              374, 378, 383, 387, 391, 396, 401, 406, 411, 416, 420, 425, 430, 435, 439, 443, 448, 453, 457, 461,
              466, 471, 475, 480, 485, 489, 492, 497, 502, 505, 510, 515, 518, 523, 526, 531, 536, 541, 546, 551,
              555, 559, 564, 568, 572, 576, 580, 585, 589, 594, 598, 602, 607, 612, 617, 622, 627, 631, 636, 641,
              646, 651, 656, 661, 665, 669, 674, 678, 685, 690, 695, 699, 704, 708, 712, 717, 722, 727, 732, 737,
              741, 746, 751, 754, 759, 763, 767, 772, 775, 779, 784, 788, 793, 798, 803, 808, 813, 817, 822, 827,
              832, 837, 842, 847, 851, 856, 861, 866, 871, 874, 879, 884, 889, 893, 897, 902, 906, 911, 915, 919,
              924, 929, 934, 939, 944, 948, 953, 958, 962, 966, 971, 976, 981, 986, 990]
rsi_ma_val = [51.2, 50.9, 46.7, 44.6, 44.2, 46.7, 52.3, 54.8, 55.2, 54.8, 52.3, 50.9, 49.5, 51.2, 51.6, 53.4, 56.5,
              56.9, 59.0, 61.4, 61.1, 62.5, 63.9, 61.4, 59.0, 56.5, 55.1, 53.7, 54.0, 54.0, 55.5, 57.9, 61.1, 60.7,
              58.6, 55.8, 53.0, 51.6, 48.8, 46.0, 47.0, 47.7, 47.0, 47.7, 48.4, 47.0, 48.1, 49.1, 51.6, 54.0, 55.1,
              57.6, 60.4, 61.4, 63.5, 66.7, 69.1, 70.5, 72.3, 70.2, 64.9, 60.0, 53.7, 46.0, 40.4, 38.6, 41.1, 43.5,
              49.5, 53.0, 51.6, 48.1, 44.9, 43.2, 41.4, 42.5, 46.0, 48.4, 49.1, 50.9, 52.3, 54.0, 55.8, 57.2, 54.4,
              51.6, 51.2, 52.0, 53.7, 55.1, 53.7, 50.9, 50.2, 51.6, 53.0, 53.0, 53.4, 52.3, 51.6, 52.0, 51.2, 52.6,
              54.4, 56.2, 56.2, 54.4, 52.3, 49.8, 48.4, 46.0, 42.8, 36.9, 33.4, 31.1, 31.6, 36.2, 39.0, 40.7, 40.4,
              40.7, 39.3, 37.9, 41.1, 42.5, 42.8, 44.6, 49.5, 55.1, 59.0, 61.1, 61.4, 58.3, 55.1, 51.6, 49.1, 48.6,
              49.8, 51.6, 55.8, 59.0, 59.0, 58.3, 57.6, 55.8, 53.7, 51.9, 51.9, 51.6, 53.4, 55.5, 54.0, 51.2, 49.8,
              48.4, 51.9, 57.2, 62.8, 67.0, 68.4, 66.3, 62.5, 59.3, 56.9, 55.1, 53.0, 50.9, 47.0, 42.8, 42.3, 43.0,
              42.6, 44.6, 46.3, 46.0, 43.3, 43.9, 44.9, 48.8, 55.1, 60.0, 62.1, 63.2, 63.9, 61.1, 59.7, 57.2, 54.1,
              52.3, 51.6, 49.1, 44.6, 40.4, 35.5, 32.3, 31.8, 33.0, 38.6, 46.0, 53.0, 58.6, 63.5, 65.6, 65.3, 62.5,
              61.1, 61.4, 60.0, 60.0, 61.4, 62.8, 61.1, 59.7, 58.3, 55.8, 54.1, 55.8, 58.3, 60.4, 62.1, 62.24]

month_dates = ['2023-11-01', '2024-01-01', '2024-03-01', '2024-05-01', '2024-07-01', '2024-09-01',
               '2024-11-01', '2025-01-01', '2025-03-01', '2025-05-01', '2025-07-01', '2025-09-01',
               '2025-11-01', '2026-01-01', '2026-03-01', '2026-05-01', '2026-07-01', '2026-09-01', '2026-11-01']
month_labels = ['Nov', '2024', 'Mar', 'May', 'Jul', 'Sep', 'Nov', '2025', 'Mar', 'May', 'Jul', 'Sep', 'Nov',
                '2026', 'Mar', 'May', 'Jul', 'Sep', 'Nov']

spx_ticks = list(range(4000, 7751, 250))
dspx_grid = list(range(-4, 41, 4))
dspx_labels = [v for v in dspx_grid if v != 20]   # 20 sits fully under the level tag
rsi_grid = [20, 40, 60, 80]
rsi_labels = [20, 40, 80]      # 60 sits under the last-value tags

level_value = 20.07          # horizontal level drawn on DSPX
level_start_day = 810
dspx_last, spx_last = 37.96, 7446.56
rsi_last, rsi_ma_last = 57.74, 62.24

# ---------------- helpers ----------------
base = mdates.datestr2num(start_date)


def to_x(days):
    return base + np.asarray(days, dtype=float)


def fx(x):
    return x / W


def fy(y):
    return 1 - y / H


def area(x0, y0, x1, y1):
    return [fx(x0), fy(y1), (x1 - x0) / W, (y1 - y0) / H]


fig = plt.figure(figsize=(W / 100, H / 100), dpi=100)
fig.patch.set_facecolor('white')


def ftext(x, y, s, **kw):
    kw.setdefault('zorder', 7)
    return fig.text(fx(x), fy(y), s, **kw)


def pline(xs, ys, **kw):
    fig.add_artist(Line2D([fx(v) for v in xs], [fy(v) for v in ys], transform=fig.transFigure, **kw))


def pbox(x0, y0, x1, y1, fc, ec='none', r=5, lw=1.0, z=6):
    fig.add_artist(FancyBboxPatch((x0, H - y1), x1 - x0, y1 - y0,
                                  boxstyle=f'round,pad=0,rounding_size={r}',
                                  transform=IdentityTransform(), fc=fc, ec=ec, lw=lw, zorder=z))


def ypix(axis, v):
    return H - axis.transData.transform((axis.get_xlim()[0], v))[1]


GRID = '#262626'
TXT = '#d1d4dc'
BLUE = '#2f7df6'
PURPLE = '#7e57c2'
YELLOW = '#f7d331'
ORANGE = '#ff9800'
AX_FS = 15.5
LEG_FS = 15.3

# chart background
fig.add_artist(Rectangle((fx(18), fy(1437)), (2542 - 18) / W, (1437 - 49) / H, transform=fig.transFigure,
                         fc='black', ec='#9a9a9a', lw=1.2, zorder=-1))

xlim = (base - 14.5, base + 1119.4)
mx = mdates.datestr2num(month_dates)

# ---------------- main pane ----------------
ax_grid = fig.add_axes(area(147, 49, 2450, 1035))
ax_spx = ax_grid.twinx()
ax_dspx = ax_grid.twinx()
for a in (ax_grid, ax_spx, ax_dspx):
    a.set_xlim(*xlim)
    for s in a.spines.values():
        s.set_visible(False)
    a.set_xticks([])
    a.set_yticks([])
ax_grid.set_facecolor('black')
ax_grid.set_ylim(-6.37, 45.02)
ax_dspx.set_ylim(-6.37, 45.02)
ax_spx.set_ylim(3762, 8018)

for v in dspx_grid:
    ax_grid.axhline(v, color=GRID, lw=1.1)
for m in mx:
    ax_grid.axvline(m, color=GRID, lw=1.1)

ax_spx.plot(to_x(spx_day), spx_val, color=BLUE, lw=2.5, solid_joinstyle='round', solid_capstyle='round')
ax_dspx.plot(to_x(dspx_day), dspx_val, color='#f2f2f2', lw=1.2, solid_joinstyle='round')
ax_dspx.plot(to_x(dspx_day[-1:]), [dspx_last], 'o', color='white', ms=4.5)
ax_dspx.axhline(dspx_last, color='white', lw=1.1, linestyle=(0, (1, 3)))
ax_dspx.plot([to_x(level_start_day), xlim[1]], [level_value, level_value], color=ORANGE, lw=2.2,
             linestyle=(0, (6, 7.5)))

# ---------------- RSI pane ----------------
ax_rsi = fig.add_axes(area(147, 1036, 2450, 1388))
ax_rsi.set_facecolor('black')
ax_rsi.set_xlim(*xlim)
ax_rsi.set_ylim(11.8, 85.96)
for s in ax_rsi.spines.values():
    s.set_visible(False)
ax_rsi.set_xticks([])
ax_rsi.set_yticks([])
ax_rsi.axhspan(30, 70, color=PURPLE, alpha=0.1, lw=0, zorder=0.5)
for v in rsi_grid:
    ax_rsi.axhline(v, color=GRID, lw=1.1, zorder=1)
for m in mx:
    ax_rsi.axvline(m, color=GRID, lw=1.1, zorder=1)
for v in (70, 50, 30):
    ax_rsi.axhline(v, color='#787b86', lw=1.1, linestyle=(0, (6.5, 5.5)), zorder=1.5)
rx = to_x(rsi_day)
rv = np.asarray(rsi_val)
ax_rsi.fill_between(rx, 70, rv, where=rv >= 70, interpolate=True, color='#1d4a24', alpha=0.55, lw=0, zorder=1.6)
ax_rsi.fill_between(rx, 30, rv, where=rv <= 30, interpolate=True, color='#4a1d1d', alpha=0.45, lw=0, zorder=1.6)
ax_rsi.plot(rx, rv, color=PURPLE, lw=1.1, zorder=3, solid_joinstyle='round')
ax_rsi.plot(to_x(rsi_ma_day), rsi_ma_val, color=YELLOW, lw=1.3, zorder=4, solid_joinstyle='round')

# ---------------- time axis ----------------
ax_time = fig.add_axes(area(147, 1389, 2450, 1437))
ax_time.set_facecolor('black')
ax_time.set_xlim(*xlim)
ax_time.set_ylim(0, 1)
for s in ax_time.spines.values():
    s.set_visible(False)
ax_time.set_xticks([])
ax_time.set_yticks([])
for m, lab in zip(mx, month_labels):
    ax_time.text(m, 0.47, lab, ha='center', va='center', fontsize=16, color=TXT,
                 fontweight='bold' if lab.isdigit() else 'normal')

# ---------------- separators ----------------
pline([147, 147], [49, 1437], color='#5a5a5a', lw=1.2, zorder=6)
pline([2450, 2450], [49, 1437], color='#5a5a5a', lw=1.2, zorder=6)
pline([18, 2542], [1035.5, 1035.5], color='#a8a8a8', lw=1.4, zorder=6)
pline([18, 2542], [1388.5, 1388.5], color='#5a5a5a', lw=1.2, zorder=6)

# ---------------- axis labels ----------------
tl = blended_transform_factory(fig.transFigure, ax_spx.transData)
for v in spx_ticks:
    fig.text(fx(130), v, f'{v:,.2f}', transform=tl, ha='right', va='center_baseline', fontsize=AX_FS,
             color=TXT, fontweight='bold' if v % 500 == 0 else 'normal', zorder=5)
tr = blended_transform_factory(fig.transFigure, ax_dspx.transData)
for v in dspx_labels:
    fig.text(fx(2465), v, f'{v:.2f}'.replace('-', '\u2212'), transform=tr, ha='left', va='center_baseline',
             fontsize=AX_FS, color=TXT, fontweight='bold' if v % 20 == 0 else 'normal', zorder=5)
trr = blended_transform_factory(fig.transFigure, ax_rsi.transData)
for v in rsi_labels:
    fig.text(fx(2465), v, f'{v:.2f}', transform=trr, ha='left', va='center_baseline', fontsize=AX_FS,
             color=TXT, zorder=5)

# buttons
pbox(25, 55, 139, 102, fc='#141414', ec='#2e2e2e', r=8, lw=1.2)
ftext(42, 79, 'USD', ha='left', va='center_baseline', fontsize=15, color=TXT)
pbox(2456, 55, 2535, 102, fc='#141414', ec='#2e2e2e', r=8, lw=1.2)
ftext(2496, 79, 'point', ha='center', va='center_baseline', fontsize=15.5, color=TXT)

# last-value markers
yb = ypix(ax_spx, spx_last)
pbox(27, yb - 15, 147, yb + 15, fc=BLUE, r=3)
ftext(130, yb + 1, f'{spx_last:,.2f}', ha='right', va='center_baseline', fontsize=AX_FS, color='white')

yw = ypix(ax_dspx, dspx_last)
pbox(2450, yw - 15, 2534, yw + 39, fc='white', r=4)
ftext(2465, yw + 1, f'{dspx_last:.2f}', ha='left', va='center_baseline', fontsize=AX_FS, color='#131722')
ftext(2465, yw + 24, '51:05', ha='left', va='center_baseline', fontsize=AX_FS, color='#5d606b')

yo = ypix(ax_dspx, level_value)
pbox(2450, yo - 16, 2535, yo + 16, fc=ORANGE, r=4)
ftext(2465, yo + 1, f'{level_value:.2f}', ha='left', va='center_baseline', fontsize=AX_FS, color='#131722')

yp = ypix(ax_rsi, rsi_last)
pbox(2450, yp - 15, 2535, yp + 15, fc=PURPLE, r=4)
ftext(2465, yp + 1, f'{rsi_last:.2f}', ha='left', va='center_baseline', fontsize=AX_FS, color='white')
pbox(2450, yp - 45, 2535, yp - 15, fc=YELLOW, r=4)
ftext(2465, yp - 29, f'{rsi_ma_last:.2f}', ha='left', va='center_baseline', fontsize=AX_FS, color='#131722')

# ---------------- legends ----------------
ftext(162, 79, 'DSPX-COR3M \u00b7 1D \u00b7 CBOE', ha='left', va='center_baseline', fontsize=LEG_FS, color=TXT)
ftext(440, 79, '37.96', ha='left', va='center_baseline', fontsize=LEG_FS, color='#f0f0f0')
ftext(508, 79, '\u22120.05 (\u22120.13%)', ha='left', va='center_baseline', fontsize=LEG_FS, color='#f0f0f0')
ftext(162, 109, 'SPX \u00b7 SPCFD', ha='left', va='center_baseline', fontsize=LEG_FS, color=TXT)
ftext(305, 109, '7,446.56', ha='left', va='center_baseline', fontsize=LEG_FS, color=BLUE)
ftext(405, 109, '\u221211.13 (\u22120.15%)', ha='left', va='center_baseline', fontsize=LEG_FS, color=BLUE)

ftext(162, 1066, 'RSI (14, close)', ha='left', va='center_baseline', fontsize=LEG_FS, color=TXT)
ftext(320, 1066, '57.74', ha='left', va='center_baseline', fontsize=LEG_FS, color=PURPLE)
ftext(386, 1066, '62.24', ha='left', va='center_baseline', fontsize=LEG_FS, color=YELLOW)

# corner buttons of time axis
for cx, letter in ((83, 'Z'), (2496, 'A')):
    fig.add_artist(Circle((cx, H - 1414), 17, transform=IdentityTransform(), fc='#242424', ec='none', zorder=6))
    ftext(cx, 1415, letter, ha='center', va='center_baseline', fontsize=13.5, color='#8a8a8a')

# ---------------- header / footer ----------------
ftext(18, 29, 'Jay1104 created with TradingView.com, Jul 20, 2026 15:23 UTC-4', ha='left',
      va='center_baseline', fontsize=15.3, color='#131722')

logo = '#131722'
fig.add_artist(Polygon([(21, H - 1478), (47, H - 1478), (47, H - 1505), (38, H - 1505), (38, H - 1487),
                        (21, H - 1487)], closed=True, transform=IdentityTransform(), fc=logo, ec='none'))
fig.add_artist(Circle((53.5, H - 1482.5), 4.5, transform=IdentityTransform(), fc=logo, ec='none'))
fig.add_artist(Polygon([(62, H - 1478), (75, H - 1478), (63, H - 1505), (50, H - 1505)], closed=True,
                       transform=IdentityTransform(), fc=logo, ec='none'))
ftext(88, 1492, 'TradingView', ha='left', va='center_baseline', fontsize=25, fontweight='bold', color=logo)

fig.savefig('out.png', dpi=100, facecolor='white')
